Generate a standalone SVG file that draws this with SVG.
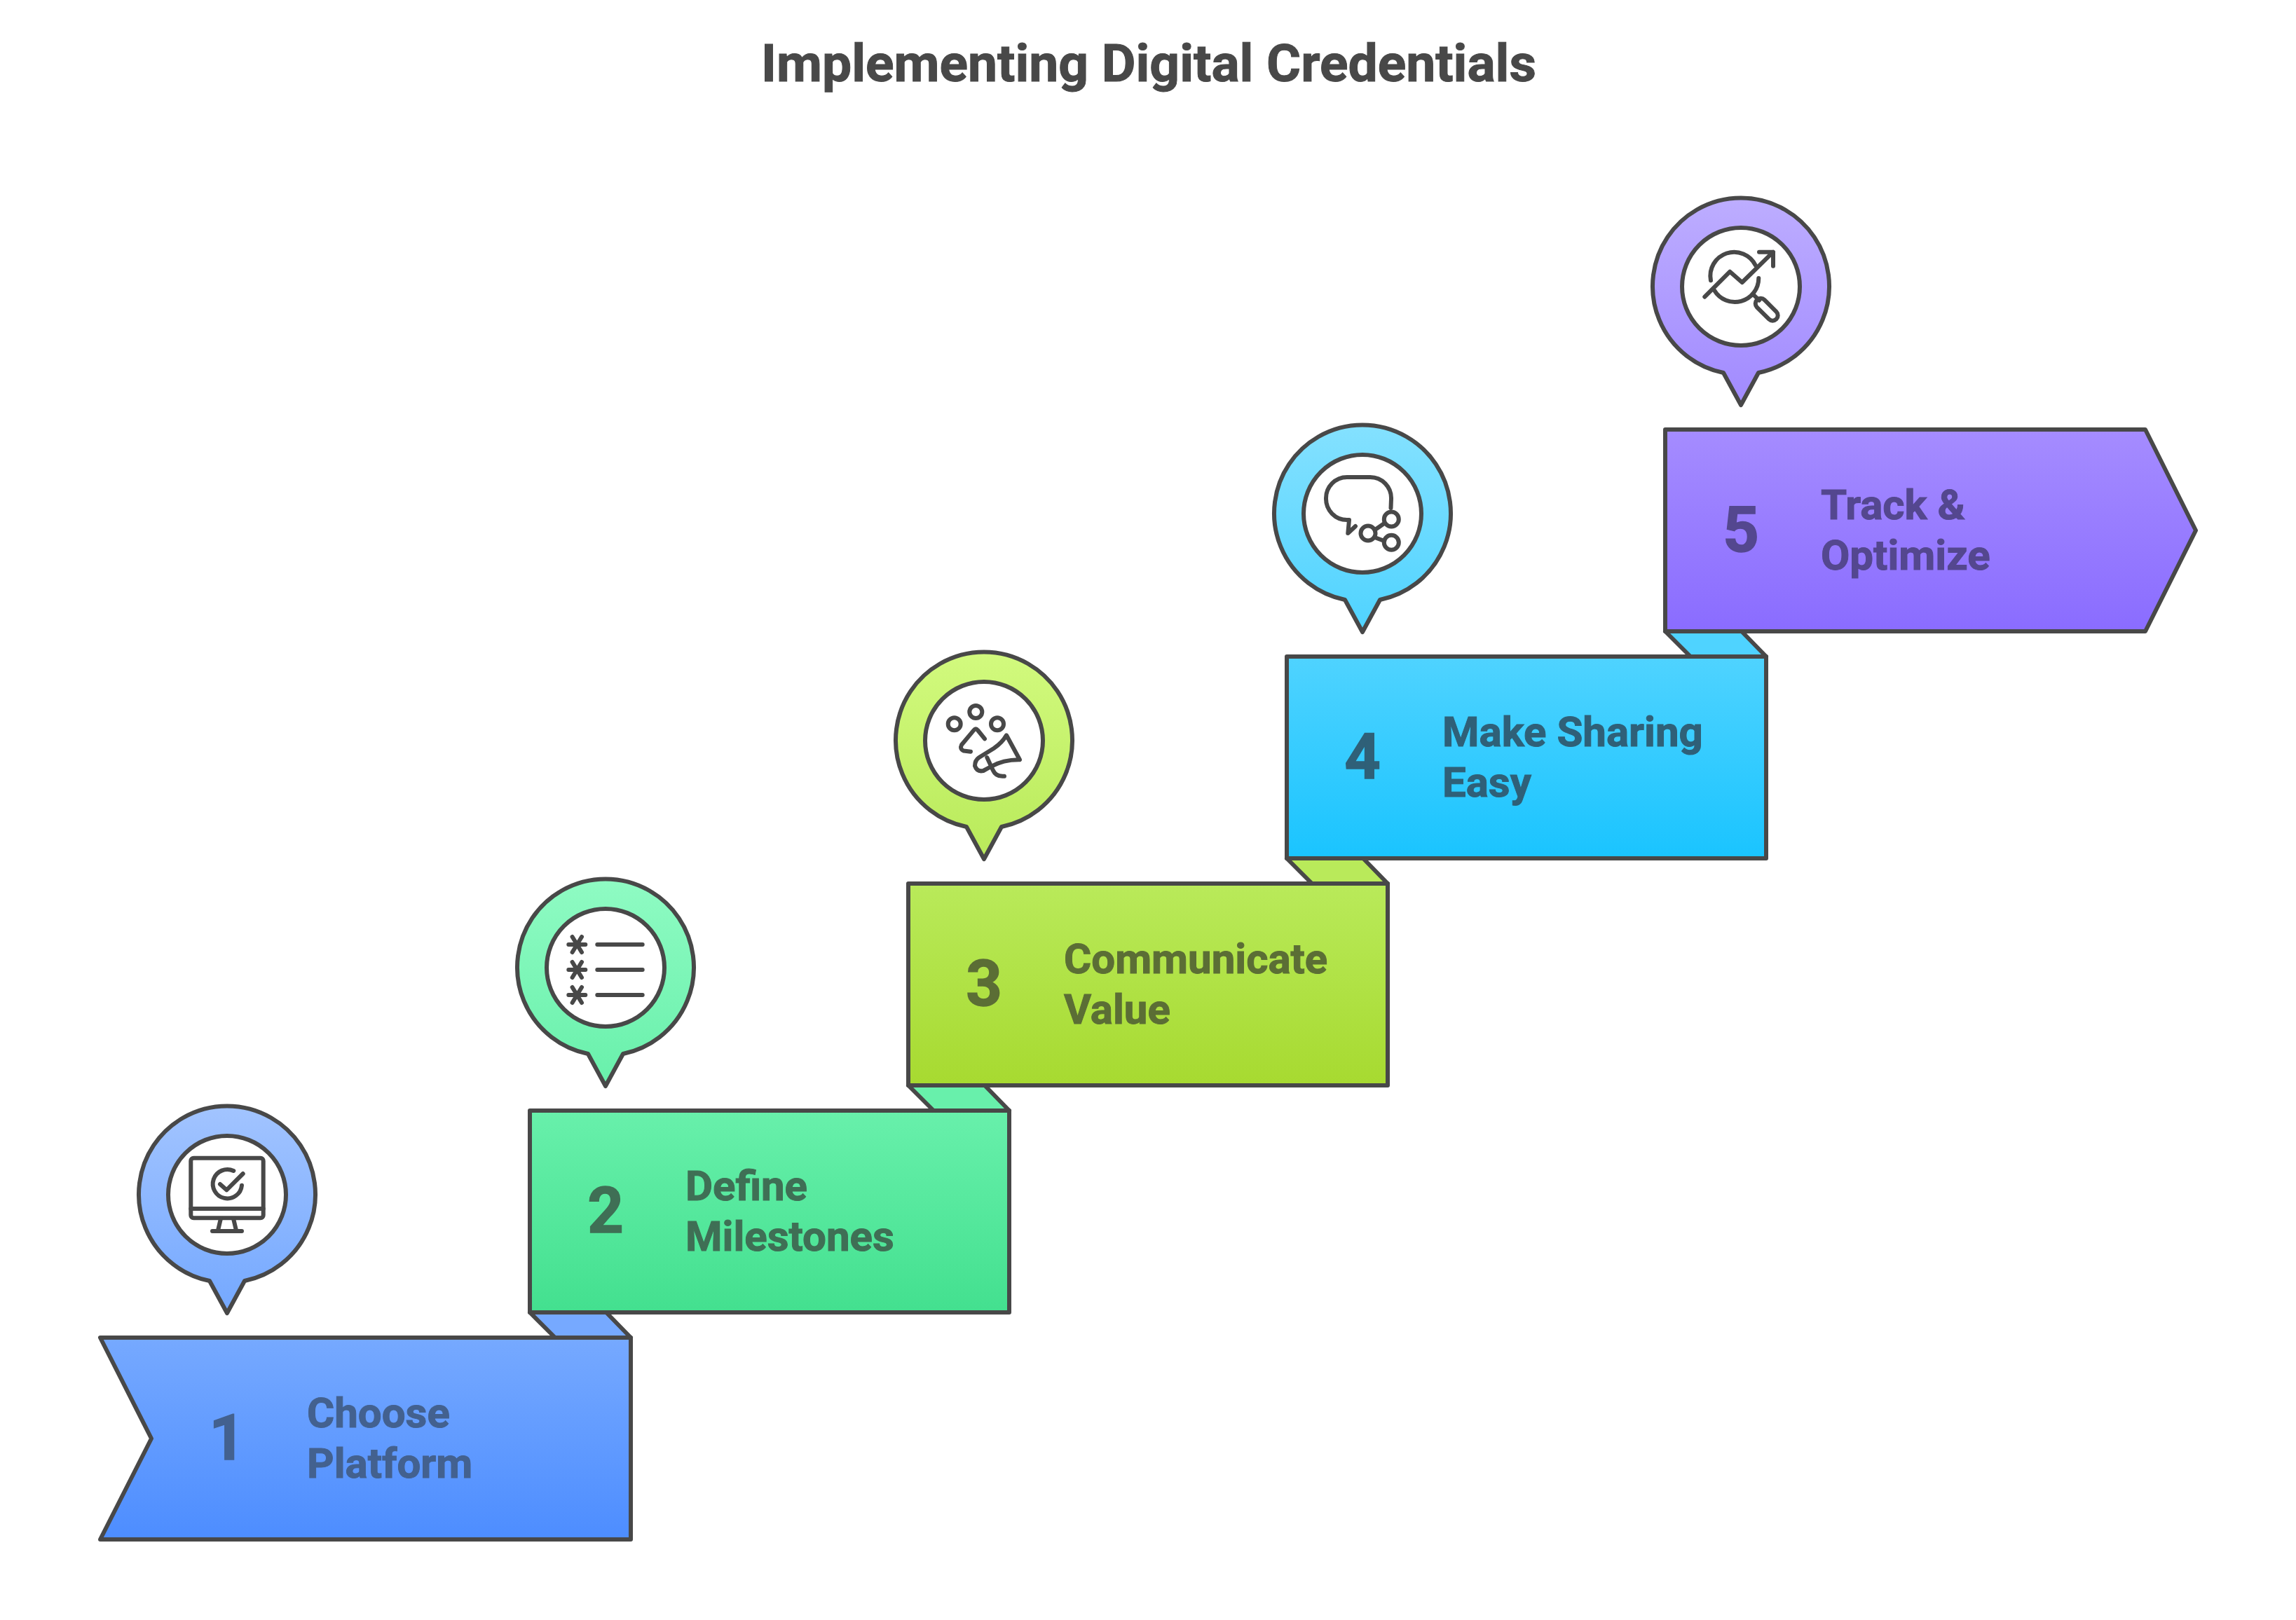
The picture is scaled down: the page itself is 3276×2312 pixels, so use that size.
<svg xmlns="http://www.w3.org/2000/svg" width="3276" height="2312" viewBox="0 0 3276 2312">
<style>
text{font-family:Roboto,"Liberation Sans",sans-serif;font-weight:700}
.title{font-size:75px;fill:#484848;text-anchor:middle;stroke:#484848;stroke-width:1}
.num{font-size:90px;text-anchor:middle;stroke-width:1.5}
.lab{font-size:60px;stroke-width:1}
.s{stroke:#484848;stroke-width:6;stroke-linejoin:round;stroke-linecap:round}
.ic{fill:none;stroke:#484848;stroke-width:6;stroke-linejoin:round;stroke-linecap:round}
.in{fill:#fff;stroke:#484848;stroke-width:6}
.t1{fill:#43618f;stroke:#43618f}
.t2{fill:#3f6f55;stroke:#3f6f55}
.t3{fill:#5b6e35;stroke:#5b6e35}
.t4{fill:#2f6078;stroke:#2f6078}
.t5{fill:#54478f;stroke:#54478f}
</style>
<defs>
<linearGradient id="b1" x1="0" y1="0" x2="0" y2="1"><stop offset="0" stop-color="#76a9ff"/><stop offset="1" stop-color="#4d8dff"/></linearGradient>
<linearGradient id="p1" x1="0" y1="0" x2="0" y2="1"><stop offset="0" stop-color="#a2c4ff"/><stop offset="1" stop-color="#74a8ff"/></linearGradient>
<linearGradient id="b2" x1="0" y1="0" x2="0" y2="1"><stop offset="0" stop-color="#68f0ab"/><stop offset="1" stop-color="#43e08f"/></linearGradient>
<linearGradient id="p2" x1="0" y1="0" x2="0" y2="1"><stop offset="0" stop-color="#8ffbc3"/><stop offset="1" stop-color="#68f0ab"/></linearGradient>
<linearGradient id="b3" x1="0" y1="0" x2="0" y2="1"><stop offset="0" stop-color="#b9ea5a"/><stop offset="1" stop-color="#a7da30"/></linearGradient>
<linearGradient id="p3" x1="0" y1="0" x2="0" y2="1"><stop offset="0" stop-color="#d2fa7e"/><stop offset="1" stop-color="#b9ea5a"/></linearGradient>
<linearGradient id="b4" x1="0" y1="0" x2="0" y2="1"><stop offset="0" stop-color="#4fd3ff"/><stop offset="1" stop-color="#1ac4ff"/></linearGradient>
<linearGradient id="p4" x1="0" y1="0" x2="0" y2="1"><stop offset="0" stop-color="#84e1ff"/><stop offset="1" stop-color="#4fd3ff"/></linearGradient>
<linearGradient id="b5" x1="0" y1="0" x2="0" y2="1"><stop offset="0" stop-color="#a58cff"/><stop offset="1" stop-color="#8a6cff"/></linearGradient>
<linearGradient id="p5" x1="0" y1="0" x2="0" y2="1"><stop offset="0" stop-color="#bdadff"/><stop offset="1" stop-color="#a18aff"/></linearGradient>
<path id="pin" d="M-25,123A126,126 0 1 1 25,123L0,169Z"/>
</defs>
<rect width="3276" height="2312" fill="#fff"/>
<text class="title" x="1639" y="116">Implementing Digital Credentials</text>
<g id="connectors">
<polygon class="s" fill="#76a9ff" points="756,1873 865,1873 900,1909 792,1909"/>
<polygon class="s" fill="#68f0ab" points="1296,1549 1405,1549 1440,1585 1332,1585"/>
<polygon class="s" fill="#b9ea5a" points="1836,1225 1945,1225 1980,1261 1872,1261"/>
<polygon class="s" fill="#4fd3ff" points="2376,901 2485,901 2520,937 2412,937"/>
</g>
<g id="node1">
<polygon class="s" fill="url(#b1)" points="143,1909 900,1909 900,2197 143,2197 216,2053"/>
<text class="num t1" x="324" y="2083">1</text>
<text class="lab t1" x="438" y="2036.500">Choose</text>
<text class="lab t1" x="438" y="2108.500">Platform</text>
<g transform="translate(324,1705)">
<use href="#pin" class="s" fill="url(#p1)"/>
<circle class="in" r="84"/>
<g class="ic">
<rect x="-51.700" y="-52.300" width="103.400" height="85.600" rx="4"/>
<path d="M-51.700,20H51.700M-9,34L-13,51M9,34L13,51M-21,52H21"/>
<path d="M9.300,-34A20.700,20.700 0 1 0 21,-13.300M-10,-15L-0.700,-6.700L22.700,-30"/>
</g>
</g>
</g>
<g id="node2">
<rect class="s" fill="url(#b2)" x="756" y="1585" width="684" height="288"/>
<text class="num t2" x="864" y="1759">2</text>
<text class="lab t2" x="978" y="1712.500">Define</text>
<text class="lab t2" x="978" y="1784.500">Milestones</text>
<g transform="translate(864,1381)">
<use href="#pin" class="s" fill="url(#p2)"/>
<circle class="in" r="84"/>
<g class="ic">
<path d="M-11.700,-33H52.700M-11.700,3H52.700M-11.700,39H52.700"/>
<path d="M-52.700,-33H-28.700M-47.400,-44L-34,-22M-34,-44L-47.400,-22"/>
<path d="M-52.700,3H-28.700M-47.400,-8L-34,14M-34,-8L-47.400,14"/>
<path d="M-52.700,39H-28.700M-47.400,28L-34,50M-34,28L-47.400,50"/>
</g>
</g>
</g>
<g id="node3">
<rect class="s" fill="url(#b3)" x="1296" y="1261" width="684" height="288"/>
<text class="num t3" x="1404" y="1435">3</text>
<text class="lab t3" x="1518" y="1388.500">Communicate</text>
<text class="lab t3" x="1518" y="1460.500">Value</text>
<g transform="translate(1404,1057)">
<use href="#pin" class="s" fill="url(#p3)"/>
<circle class="in" r="84"/>
<g class="ic">
<circle cx="-42.300" cy="-23.700" r="9"/><circle cx="-11.700" cy="-41" r="9"/><circle cx="19" cy="-23.700" r="9"/>
<path d="M1,-2.700L-9,-15Q-11.700,-18.500 -14.500,-15L-32,6Q-35,12 -29,14.500L-19,15.700"/>
<path d="M32,-7.700L51,27.300Q28,27 10,37L-1,43Q-10,45 -13,36Q-13,28 -7,24L14,11Q26,3 32,-7.700Z"/>
<path d="M4.300,24L12.700,42Q17,52 29,50.700"/>
</g>
</g>
</g>
<g id="node4">
<rect class="s" fill="url(#b4)" x="1836" y="937" width="684" height="288"/>
<text class="num t4" x="1944" y="1111">4</text>
<text class="lab t4" x="2058" y="1064.500">Make Sharing</text>
<text class="lab t4" x="2058" y="1136.500">Easy</text>
<g transform="translate(1944,733)">
<use href="#pin" class="s" fill="url(#p4)"/>
<circle class="in" r="84"/>
<g class="ic">
<path d="M40.500,-8L41,-21A30,30 0 0 0 11,-52H-22A30,30 0 0 0 -52,-21.500A30,30 0 0 0 -22,9H-19L-20.700,28L-10,18"/>
<circle cx="41.300" cy="8" r="10.500"/><circle cx="8" cy="28" r="10.500"/><circle cx="41.300" cy="41.300" r="10.500"/>
<path d="M17.700,23.300L31,14M17.700,34L31,39"/>
</g>
</g>
</g>
<g id="node5">
<polygon class="s" fill="url(#b5)" points="2376,613 3061,613 3133,757 3061,901 2376,901"/>
<text class="num t5" x="2484" y="787">5</text>
<text class="lab t5" x="2598" y="740.500">Track &amp;</text>
<text class="lab t5" x="2598" y="812.500">Optimize</text>
<g transform="translate(2484,409)">
<use href="#pin" class="s" fill="url(#p5)"/>
<circle class="in" r="84"/>
<g class="ic">
<path d="M-43,-8.700A34,34 0 0 1 21,-30M25.300,-12A34,34 0 0 1 -38,5.300"/>
<path d="M19.300,13L26,19.700"/>
<rect x="17.200" y="25.200" width="39" height="15" rx="7.500" transform="rotate(45 36.700 32.700)"/>
<path d="M-51.700,14.700L-15.700,-21.300L1.700,-6L46,-49.300M26,-49.300H46V-29.300"/>
</g>
</g>
</g>
</svg>
